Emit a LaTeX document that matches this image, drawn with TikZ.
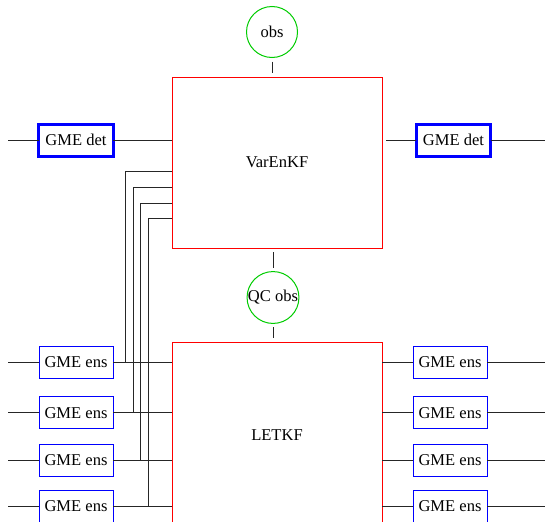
\documentclass[tikz,border=0pt]{standalone}
\usepackage{fontspec}
\setmainfont{Liberation Serif}
\usepackage{tikz}
\usetikzlibrary{positioning}
\definecolor{obsgreen}{RGB}{0, 204, 0}
\definecolor{boxblue}{RGB}{0, 0, 255}

\begin{document}
\begin{tikzpicture}[
        x=0.75pt, y=-0.75pt,
        font=\fontsize{12.4}{15}\selectfont,
        every node/.style={inner sep=0pt, outer sep=0pt},
        filterbox/.style={rectangle, draw=red, line width=0.75pt, minimum width=157.5pt},
        obscirc/.style={circle, draw=obsgreen, line width=0.75pt, minimum size=38.25pt},
        detbox/.style={rectangle, draw=boxblue, text=black, line width=2.25pt, minimum width=56pt, minimum height=24pt},
        ensbox/.style={rectangle, draw=boxblue, text=black, line width=0.75pt, minimum width=55.5pt, minimum height=24pt},
        link/.style={line width=0.75pt, draw=black!85},
        gap/.style={shorten <=3pt, shorten >=3pt}
    ]
        \useasboundingbox (0,0) rectangle (545,521);

        \node[filterbox, minimum height=128.25pt] (varenkf) at (277,162.5) {VarEnKF};
        \node[filterbox, minimum height=139.5pt] (letkf) at (277,435) {LETKF};
        \node[obscirc] (obs) at (272,32) {obs};
        \node[obscirc] (qcobs) at (273,297.5) {QC obs};

        \node[detbox] (detL) at (76,140) {GME det};
        \node[detbox] (detR) at (453.5,140) {GME det};

        % ensemble members, left and right of LETKF
        \node[ensbox] (ensL1) at (76,362) {GME ens};
        \node[ensbox] (ensL2) at (76,412.6) {GME ens};
        \node[ensbox] (ensL3) at (76,460) {GME ens};
        \node[ensbox] (ensL4) at (76,506) {GME ens};
        \node[ensbox] (ensR1) at (450,362) {GME ens};
        \node[ensbox] (ensR2) at (450,412.6) {GME ens};
        \node[ensbox] (ensR3) at (450,460) {GME ens};
        \node[ensbox] (ensR4) at (450,506) {GME ens};

        \foreach \i/\yy in {0/140, 1/362, 2/412.6, 3/460, 4/506} {
            \coordinate (inL\i) at (8,\yy);
            \coordinate (outR\i) at (545,\yy);
        }

        \draw[link, gap] (obs.south) -- (obs.south |- varenkf.north);
        \draw[link, gap] (qcobs.north) -- (qcobs.north |- varenkf.south);
        \draw[link, gap] (qcobs.south) -- (qcobs.south |- letkf.north);

        \draw[link] (inL0) -- (detL);
        \draw[link] (detL.east) -- (detL.east -| varenkf.west);
        \draw[link, shorten <=3pt] (detR.west -| varenkf.east) -- (detR.west);
        \draw[link] (detR) -- (outR0);

        \foreach \i in {1,...,4} {
            \draw[link] (inL\i) -- (ensL\i);
            \draw[link] (ensL\i.east) -- (ensL\i.east -| letkf.west);
            \draw[link] (ensR\i.west -| letkf.east) -- (ensR\i.west);
            \draw[link] (ensR\i) -- (outR\i);
        }

        % VarEnKF feeds back to the ensemble members
        \foreach \i/\yy/\xx in {1/171/125, 2/187/133, 3/203/140, 4/218/148}
            \draw[link] (varenkf.west |- 0,\yy) -| (\xx,0 |- ensL\i.east);
    \end{tikzpicture}
\end{document}
